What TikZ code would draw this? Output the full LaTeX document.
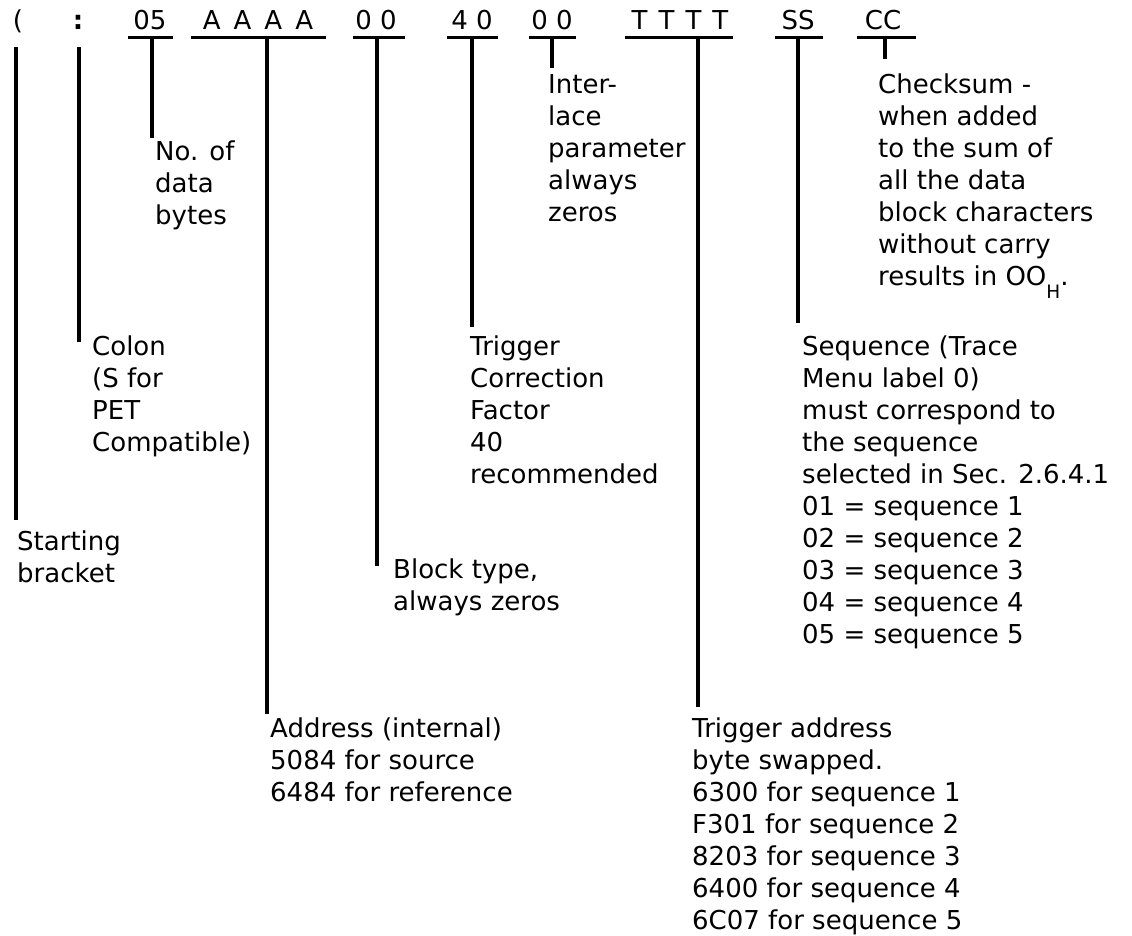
\documentclass[tikz,border=0pt]{standalone}
\usepackage{fontspec}
\setmainfont{DejaVu Sans}
\newcommand{\descfont}{\fontsize{26}{32}\selectfont}
\newcommand{\st}{\rule{0pt}{22pt}}
\begin{document}
\begin{tikzpicture}[x=1pt,y=-1pt,
  field/.style={anchor=base,inner sep=0pt,font=\descfont},
  lbl/.style={anchor=north west,inner sep=0pt,align=left,font=\descfont},
  uline/.style={line width=3pt,line cap=butt},
  vline/.style={line width=3.4pt,line cap=butt}]
\fill[white] (0,0) rectangle (1132,936);
\useasboundingbox (0,0) rectangle (1132,936);

% ---- fields on the top row
\node[field] (fbr)  at (18,30)  {(};
\node[field] (fco)  at (78,30)  {\bfseries :};
\node[field] (f05)  at (150,30) {05};
\node[field] (fA)   at (258,30) {A\hspace{13pt}A\hspace{13pt}A\hspace{13pt}A};
\node[field] (fbt)  at (376,30) {0 0};
\node[field] (f40)  at (472,30) {4 0};
\node[field] (fil)  at (552,30) {0 0};
\node[field] (fT)   at (680,30) {T\hspace{11pt}T\hspace{11pt}T\hspace{11pt}T};
\node[field] (fSS)  at (798,30) {SS};
\node[field] (fCC)  at (883,30) {CC};

% ---- underlines
\coordinate (u05l) at (128,38);  \coordinate (u05r) at (173,38);
\coordinate (uAl)  at (191,38);  \coordinate (uAr)  at (326,38);
\coordinate (ubtl) at (353,38);  \coordinate (ubtr) at (405,38);
\coordinate (u40l) at (447,38);  \coordinate (u40r) at (498,38);
\coordinate (uill) at (529,38);  \coordinate (uilr) at (576,38);
\coordinate (uTl)  at (625,38);  \coordinate (uTr)  at (733,38);
\coordinate (uSSl) at (775,38);  \coordinate (uSSr) at (823,38);
\coordinate (uCCl) at (857,38);  \coordinate (uCCr) at (916,38);
\foreach \a/\b in {u05l/u05r,uAl/uAr,ubtl/ubtr,u40l/u40r,uill/uilr,uTl/uTr,uSSl/uSSr,uCCl/uCCr}
  \draw[uline] (\a) -- (\b);

% ---- descriptions
\node[lbl] (dbr) at (17,528)  {\st Starting\\bracket};
\node[lbl] (dco) at (92,333)  {\st Colon\\(S for\\PET\\Compatible)};
\node[lbl] (d05) at (155,138) {\st No. of\\data\\bytes};
\node[lbl] (dA)  at (270,715) {\st Address (internal)\\5084 for source\\6484 for reference};
\node[lbl] (dbt) at (393,556) {\st Block type,\\always zeros};
\node[lbl] (d40) at (470,333) {\st Trigger\\Correction\\Factor\\40\\recommended};
\node[lbl] (dil) at (548,71)  {\st Inter-\\lace\\parameter\\always\\zeros};
\node[lbl] (dT)  at (692,715) {\st Trigger address\\byte swapped.\\6300 for sequence 1\\F301 for sequence 2\\8203 for sequence 3\\6400 for sequence 4\\6C07 for sequence 5};
\node[lbl] (dSS) at (802,333) {\st Sequence (Trace\\Menu label 0)\\must correspond to\\the sequence\\selected in Sec. 2.6.4.1\\01 = sequence 1\\02 = sequence 2\\03 = sequence 3\\04 = sequence 4\\05 = sequence 5};
\node[lbl] (dCC) at (878,71)  {\st Checksum -\\when added\\to the sum of\\all the data\\block characters\\without carry\\results in OO\raisebox{-13.5pt}{\fontsize{18.5}{18.5}\selectfont H}.};

% ---- leader lines
\coordinate (sbr) at (16,47);   \coordinate (ebr) at (16,520);
\coordinate (sco) at (79,47);   \coordinate (eco) at (79,342);
\coordinate (s05) at (152,38);  \coordinate (e05) at (152,138);
\coordinate (sA)  at (267,38);  \coordinate (eA)  at (267,714);
\coordinate (sbt) at (377,38);  \coordinate (ebt) at (377,566);
\coordinate (s40) at (472,38);  \coordinate (e40) at (472,327);
\coordinate (sil) at (552,38);  \coordinate (eil) at (552,68);
\coordinate (sT)  at (698,38);  \coordinate (eT)  at (698,707);
\coordinate (sSS) at (798,38);  \coordinate (eSS) at (798,323);
\coordinate (sCC) at (885,38);  \coordinate (eCC) at (885,59);
\foreach \a/\b in {sbr/ebr,sco/eco,s05/e05,sA/eA,sbt/ebt,s40/e40,sil/eil,sT/eT,sSS/eSS,sCC/eCC}
  \draw[vline] (\a) -- (\b);
\end{tikzpicture}
\end{document}
